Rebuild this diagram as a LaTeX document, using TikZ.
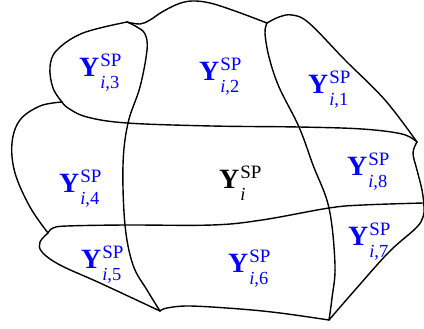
\documentclass[tikz,border=0pt]{standalone}
\usepackage{fontspec}
\setmainfont{Liberation Serif}
\newcommand\ylbl[1]{\textbf{Y}\hspace{1bp}\rlap{\raisebox{10bp}{\fontsize{19}{19}\selectfont SP}}\raisebox{-12bp}{\fontsize{18.5}{19}\selectfont\textit{i},#1}}
\newcommand\ylblo{\textbf{Y}\hspace{1bp}\rlap{\raisebox{10bp}{\fontsize{19}{19}\selectfont SP}}\raisebox{-12bp}{\fontsize{18.5}{19}\selectfont\textit{i}}}
\begin{document}
\begin{tikzpicture}[x=1bp,y=-1bp,
  edge/.style={line width=1.4bp,line join=round,line cap=round},
  lbl/.style={anchor=base west,inner sep=0pt,text=blue,font=\fontsize{28}{30}\selectfont},
  lblc/.style={lbl,text=black}]
\useasboundingbox (0,0) rectangle (424,329);
% outer boundary
\draw[edge] plot[smooth,tension=0.6] coordinates{(62,102)(53,88)(50,67)(57,50)(83,33)(127,22)};
\draw[edge] plot[smooth,tension=0.6] coordinates{(127,22)(140,24)(150,20)(162,12)(178,4)(192,1)(210,3)(235,11)(267,23)};
\draw[edge] plot[smooth,tension=0.6] coordinates{(267,23)(279,17)(292,15)(309,23)(345,60)(385,100)(417,142)};
\draw[edge] plot[smooth,tension=0.6] coordinates{(417,142)(413,153)(417,170)(422,190)(424,207)(423,217)(416,228)(389,252)(355,290)(329,320)};
\draw[edge] plot[smooth,tension=0.6] coordinates{(329,320)(280,313)(240,309)(190,306)(167,308)(160,311)};
\draw[edge] plot[smooth,tension=0.6] coordinates{(160,311)(100,283)(60,265)(42,252)(40,242)(48,233)};
\draw[edge] plot[smooth,tension=0.6] coordinates{(48,233)(30,207)(15,173)(12,143)(20,120)(40,106)(62,102)};
% inner curves
\draw[edge] plot[smooth,tension=0.6] coordinates{(62,102)(68,108)(87,117)(127,123)(212,126)(299,127)(362,129)(402,134)(417,142)};
\draw[edge] plot[smooth,tension=0.6] coordinates{(48,233)(53,228)(67,226)(125,225)(212,225)(262,220)(329,208)(363,205)(423,203)};
\draw[edge] plot[smooth,tension=0.6] coordinates{(127,22)(137,27)(145,34)(147,50)(140,87)(128,123)(123,165)(125,225)(133,265)(147,290)(160,311)};
\draw[edge] plot[smooth,tension=0.6] coordinates{(267,23)(265,33)(269,57)(279,87)(299,127)(313,165)(329,208)(335,265)(332,298)(329,320)};
% labels
\node[lbl] (y3) at (79,76) {\ylbl{3}};
\node[lbl] (y2) at (199,80) {\ylbl{2}};
\node[lbl] (y1) at (308,93) {\ylbl{1}};
\node[lbl] (y4) at (59,192) {\ylbl{4}};
\node[lblc] (y0) at (219,188) {\ylblo};
\node[lbl] (y8) at (347,175) {\ylbl{8}};
\node[lbl] (y5) at (81,268) {\ylbl{5}};
\node[lbl] (y6) at (228,272) {\ylbl{6}};
\node[lbl] (y7) at (348,245) {\ylbl{7}};
\end{tikzpicture}
\end{document}
